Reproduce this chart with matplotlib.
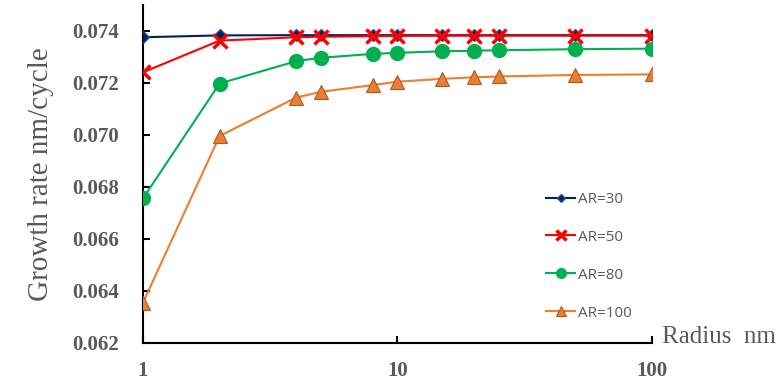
import matplotlib
matplotlib.use("Agg")
import matplotlib.pyplot as plt

# Radius (nm) and growth rate (nm/cycle) for each aspect ratio
radius = [1, 2, 4, 5, 8, 10, 15, 20, 25, 50, 100]
ar30 = [0.07376, 0.07383, 0.07384, 0.07384, 0.07384, 0.07384, 0.07384, 0.07384, 0.07384, 0.07384, 0.07384]
ar50 = [0.07241, 0.07363, 0.07376, 0.07378, 0.07380, 0.07381, 0.07382, 0.07382, 0.07382, 0.07382, 0.07382]
ar80 = [0.06756, 0.07198, 0.07284, 0.07297, 0.07312, 0.07316, 0.07322, 0.07324, 0.07326, 0.07330, 0.07332]
ar100 = [0.06355, 0.06996, 0.07144, 0.07166, 0.07192, 0.07205, 0.07216, 0.07222, 0.07225, 0.07231, 0.07233]

grey = "#595959"

fig = plt.figure(figsize=(7.8, 3.87), dpi=100)
ax = fig.add_axes([0.1833, 0.1137, 0.6526, 0.8734])

ax.plot(radius, ar30, color="#002060", lw=1.5, marker="D", ms=6.5,
        mfc="#002060", mec="#2F5597", label="AR=30", zorder=4)
ax.plot(radius, ar50, color="#FF0000", lw=1.5, marker="x", ms=10, mew=2.5,
        label="AR=50", zorder=5)
ax.plot(radius, ar80, color="#00B050", lw=1.5, marker="o", ms=10,
        mfc="#00B050", mec="#00B050", label="AR=80", zorder=3)
ax.plot(radius, ar100, color="#ED7D31", lw=1.5, marker="^", ms=10,
        mfc="#ED7D31", mec="#AE5A21", mew=0.8, label="AR=100", zorder=3)

ax.set_xscale("log")
ax.set_xlim(1, 100)
ax.set_ylim(0.062, 0.0750)
ax.set_xticks([1, 10, 100])
ax.set_xticklabels(["1", "10", "100"])
ax.minorticks_off()
ax.set_yticks([0.062, 0.064, 0.066, 0.068, 0.070, 0.072, 0.074])
ax.set_yticklabels(["0.062", "0.064", "0.066", "0.068", "0.070", "0.072", "0.074"])

for s in ["top", "right"]:
    ax.spines[s].set_visible(False)
for s in ["left", "bottom"]:
    ax.spines[s].set_linewidth(1.5)
    ax.spines[s].set_color("black")

ax.tick_params(axis="both", direction="in", length=5, width=1.5, colors="black")
ax.tick_params(axis="y", pad=17)
ax.tick_params(axis="x", pad=13)
for lbl in ax.get_xticklabels() + ax.get_yticklabels():
    lbl.set_fontfamily("Liberation Serif")
    lbl.set_fontweight("bold")
    lbl.set_fontsize(15)
    lbl.set_color(grey)

ax.set_ylabel("Growth rate nm/cycle", family="Liberation Serif", fontsize=21, color=grey)
ax.yaxis.set_label_coords(-0.175, 0.5)
ax.text(1.02, 0.018, "Radius  nm", transform=ax.transAxes, family="Liberation Serif",
        fontsize=18, color=grey, va="center", ha="left")

ax.legend(loc="upper left", bbox_to_anchor=(0.792, 0.447), frameon=False,
          prop={"family": "Open Sans", "size": 11}, labelcolor=grey,
          handlelength=1.9, handletextpad=0.2, labelspacing=1.5,
          borderpad=0, borderaxespad=0, markerscale=0.7)

fig.savefig("out.png", dpi=100)
